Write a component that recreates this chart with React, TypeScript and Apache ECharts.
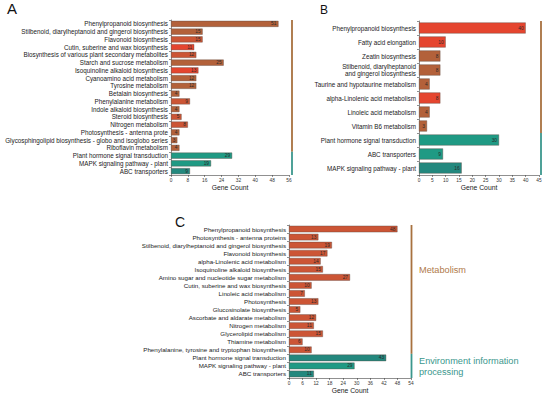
import React, { useEffect, useRef } from "react";
import * as echarts from "echarts";

// ---- Panel A data ----
const categoriesA = [
  "Phenylpropanoid biosynthesis",
  "Stilbenoid, diarylheptanoid and gingerol biosynthesis",
  "Flavonoid biosynthesis",
  "Cutin, suberine and wax biosynthesis",
  "Biosynthesis of various plant secondary metabolites",
  "Starch and sucrose metabolism",
  "Isoquinoline alkaloid biosynthesis",
  "Cyanoamino acid metabolism",
  "Tyrosine metabolism",
  "Betalain biosynthesis",
  "Phenylalanine metabolism",
  "Indole alkaloid biosynthesis",
  "Steroid biosynthesis",
  "Nitrogen metabolism",
  "Photosynthesis - antenna prote",
  "Glycosphingolipid biosynthesis - globo and isoglobo series",
  "Riboflavin metabolism",
  "Plant hormone signal transduction",
  "MAPK signaling pathway - plant",
  "ABC transporters",
];
const valuesA = [51, 15, 15, 11, 12, 25, 13, 12, 12, 4, 9, 4, 5, 8, 4, 3, 4, 29, 19, 9];
// significance level per bar: 0 = red, 1 = mid, 2 = brown, 3 = teal, 4 = dark teal
const levelsA = [2, 2, 1, 0, 1, 2, 0, 2, 2, 2, 1, 2, 1, 1, 2, 2, 2, 3, 3, 4];
const groupSizesA = [17, 3];
const ticksA = { min: 0, max: 56, interval: 8 };

// ---- Panel B data ----
const categoriesB = [
  "Phenylpropanoid biosynthesis",
  "Fatty acid elongation",
  "Zeatin biosynthesis",
  "Stilbenoid, diarylheptanoid\nand gingerol biosynthesis",
  "Taurine and hypotaurine metabolism",
  "alpha-Linolenic acid metabolism",
  "Linoleic acid metabolism",
  "Vitamin B6 metabolism",
  "Plant hormone signal transduction",
  "ABC transporters",
  "MAPK signaling pathway - plant",
];
const valuesB = [40, 10, 8, 8, 4, 8, 4, 3, 30, 9, 16];
const levelsB = [0, 0, 2, 2, 2, 0, 2, 2, 3, 3, 4];
const groupSizesB = [8, 3];
const ticksB = { min: 0, max: 45, interval: 5 };

// ---- Panel C data ----
const categoriesC = [
  "Phenylpropanoid biosynthesis",
  "Photosynthesis - antenna proteins",
  "Stilbenoid, diarylheptanoid and gingerol biosynthesis",
  "Flavonoid biosynthesis",
  "alpha-Linolenic acid metabolism",
  "Isoquinoline alkaloid biosynthesis",
  "Amino sugar and nucleotide sugar metabolism",
  "Cutin, suberine and wax biosynthesis",
  "Linoleic acid metabolism",
  "Photosynthesis",
  "Glucosinolate biosynthesis",
  "Ascorbate and aldarate metabolism",
  "Nitrogen metabolism",
  "Glycerolipid metabolism",
  "Thiamine metabolism",
  "Phenylalanine, tyrosine and tryptophan biosynthesis",
  "Plant hormone signal transduction",
  "MAPK signaling pathway - plant",
  "ABC transporters",
];
const valuesC = [48, 13, 19, 17, 14, 15, 27, 10, 7, 13, 5, 12, 11, 15, 6, 10, 43, 29, 11];
const levelsC = [1, 1, 1, 1, 1, 1, 1, 1, 1, 1, 1, 1, 1, 1, 1, 1, 4, 3, 4];
const groupSizesC = [16, 3];
const ticksC = { min: 0, max: 54, interval: 6 };

const groupNames = ["Metabolism", "Environment information\nprocessing"];

// ---- styles ----
const levelColors = ["#e5452f", "#cc5535", "#b3613a", "#1f9a84", "#23887e"];
const groupColors = ["#a8713f", "#3b978d"];
const FONT = "Liberation Sans, Arial, sans-serif";

function barSeries(idx: number, values: number[], levels: number[], barW: number) {
  return {
    type: "bar",
    xAxisIndex: idx,
    yAxisIndex: idx,
    barWidth: barW,
    data: values.map((v, i) => ({
      value: v,
      itemStyle: { color: levelColors[levels[i]], borderColor: "#5a4a42", borderWidth: 0.4 },
    })),
    label: {
      show: true,
      position: "insideRight",
      distance: 2,
      fontSize: 4.8,
      color: "#2a2a2a",
      fontFamily: FONT,
    },
  };
}

function groupLineSeries(idx: number, xMax: number, sizes: number[], offset: number) {
  let start = 0;
  const data = sizes.map((s, g) => {
    const item = { value: [xMax, start, start + s - 1], itemStyle: { color: groupColors[g] } };
    start += s;
    return item;
  });
  return {
    type: "custom",
    xAxisIndex: idx,
    yAxisIndex: idx,
    clip: false,
    encode: { x: 0, y: [1, 2] },
    data,
    renderItem: (params: any, api: any) => {
      const p1 = api.coord([api.value(0), api.value(1)]);
      const p2 = api.coord([api.value(0), api.value(2)]);
      const h = api.size([0, 1])[1];
      const top = Math.min(p1[1], p2[1]) - h / 2;
      const bottom = Math.max(p1[1], p2[1]) + h / 2;
      const x = p1[0] + offset;
      return {
        type: "line",
        shape: { x1: x, y1: top, x2: x, y2: bottom },
        style: { stroke: api.visual("color"), lineWidth: 1.8 },
      };
    },
  };
}

function xAxis(idx: number, t: { min: number; max: number; interval: number }, nameGap: number) {
  return {
    type: "value",
    gridIndex: idx,
    min: t.min,
    max: t.max,
    interval: t.interval,
    name: "Gene Count",
    nameLocation: "middle",
    nameGap,
    nameTextStyle: { fontSize: 6.8, color: "#222", fontFamily: FONT },
    splitLine: { show: false },
    axisLine: { show: true, lineStyle: { color: "#444", width: 0.6 } },
    axisTick: { show: true, length: 2, lineStyle: { color: "#444", width: 0.6 } },
    axisLabel: { fontSize: 4.8, color: "#333", margin: 3, fontFamily: FONT },
  };
}

function yAxis(idx: number, cats: string[], fontSize: number) {
  return {
    type: "category",
    gridIndex: idx,
    data: cats,
    inverse: true,
    axisLine: { show: true, lineStyle: { color: "#444", width: 0.6 } },
    axisTick: { show: true, length: 2, interval: 0, lineStyle: { color: "#444", width: 0.6 } },
    axisLabel: {
      interval: 0,
      hideOverlap: false,
      fontSize,
      color: "#222",
      margin: 3,
      fontFamily: FONT,
      lineHeight: fontSize + 1.2,
    },
  };
}

export default function App() {
  const ref = useRef<HTMLDivElement>(null);
  useEffect(() => {
    if (!ref.current) return;
    const chart = echarts.init(ref.current, null, { renderer: "svg" });
    chart.setOption({
      animation: false,
      backgroundColor: "#ffffff",
      textStyle: { fontFamily: FONT },
      title: [
        { text: "A", left: 7, top: 1, padding: 0, textStyle: { fontSize: 15, fontWeight: "normal", color: "#111", fontFamily: FONT } },
        { text: "B", left: 320, top: 4, padding: 0, textStyle: { fontSize: 12, fontWeight: "normal", color: "#111", fontFamily: FONT } },
        { text: "C", left: 175, top: 215, padding: 0, textStyle: { fontSize: 14, fontWeight: "normal", color: "#111", fontFamily: FONT } },
      ],
      grid: [
        { left: 171, top: 20, width: 118, height: 155 },
        { left: 419, top: 21, width: 120, height: 154 },
        { left: 289, top: 225, width: 122, height: 153 },
      ],
      xAxis: [xAxis(0, ticksA, 8), xAxis(1, ticksB, 9), xAxis(2, ticksC, 9)],
      yAxis: [yAxis(0, categoriesA, 6.3), yAxis(1, categoriesB, 6.3), yAxis(2, categoriesC, 6.2)],
      series: [
        barSeries(0, valuesA, levelsA, 6),
        barSeries(1, valuesB, levelsB, 11),
        barSeries(2, valuesC, levelsC, 6.5),
        groupLineSeries(0, ticksA.max, groupSizesA, 3),
        groupLineSeries(1, ticksB.max, groupSizesB, 2),
        groupLineSeries(2, ticksC.max, groupSizesC, 0.5),
      ],
      graphic: [
        {
          type: "text",
          left: 419,
          top: 265,
          style: { text: groupNames[0], fontSize: 9.2, fill: "#b07a4a", fontFamily: FONT },
        },
        {
          type: "text",
          left: 419,
          top: 355,
          style: { text: groupNames[1], fontSize: 9.2, fill: "#3b978d", fontFamily: FONT, lineHeight: 11.5 },
        },
      ],
    });
    return () => chart.dispose();
  }, []);
  return (
    <div
      ref={ref}
      style={{ position: "fixed", left: 0, top: 0, width: 550, height: 395 }}
    />
  );
}
